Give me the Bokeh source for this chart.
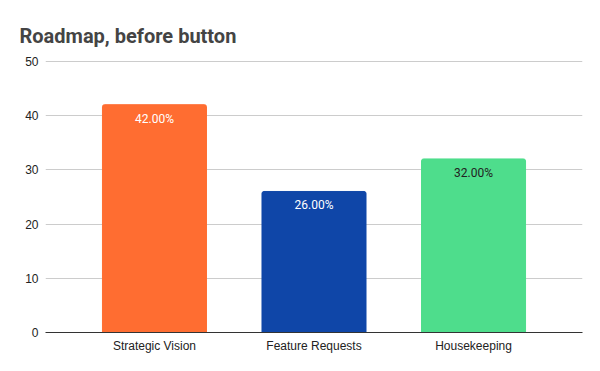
from bokeh.plotting import figure
from bokeh.models import FactorRange, Range1d, FixedTicker, ColumnDataSource
from bokeh.core.properties import value
from bokeh.embed import file_html
from bokeh.resources import INLINE

categories = ["Strategic Vision", "Feature Requests", "Housekeeping"]
values = [42, 26, 32]
labels = ["42.00%", "26.00%", "32.00%"]
colors = ["#FF6D31", "#0F46A8", "#4EDD8C"]
label_colors = ["#FFFFFF", "#FFFFFF", "#222222"]
y_ticks = [0, 10, 20, 30, 40, 50]

src = ColumnDataSource(dict(cat=categories, val=values, lab=labels,
                            col=colors, lcol=label_colors))

p = figure(width=592, height=363, output_backend="svg", toolbar_location=None,
           x_range=FactorRange(factors=categories, range_padding=0.122,
                               range_padding_units="percent"),
           y_range=Range1d(0, 50.15),
           min_border_left=45, min_border_right=10, min_border_top=60,
           min_border_bottom=31)

p.vbar(x="cat", top="val", width=0.652, color="col", source=src,
       border_radius=[2, 2, 0, 0])
p.text(x="cat", y="val", text="lab", source=src, text_color="lcol",
       text_align="center", text_baseline="top", y_offset=7,
       text_font=value("Roboto"), text_font_size="12px")

p.title.text = "Roadmap, before button"
p.title.text_font = "Roboto"
p.title.text_font_size = "20px"
p.title.text_font_style = "bold"
p.title.text_color = "#444444"
p.title.align = "left"
p.title.offset = -26
p.title.standoff = 25

p.outline_line_color = None
p.xgrid.grid_line_color = None
p.ygrid.grid_line_color = "#CCCCCC"
p.yaxis.ticker = FixedTicker(ticks=y_ticks)
p.yaxis.axis_line_color = None
p.yaxis.major_tick_line_color = None
p.yaxis.minor_tick_line_color = None
p.yaxis.major_label_standoff = 1
p.xaxis.axis_line_color = "#333333"
p.xaxis.major_tick_line_color = None
p.xaxis.minor_tick_line_color = None
p.xaxis.major_label_standoff = 0
for ax in (p.xaxis, p.yaxis):
    ax.major_label_text_font = "Liberation Sans"
    ax.major_label_text_font_size = "12px"
    ax.major_label_text_color = "#222222"

open("out.html", "w").write(file_html(p, INLINE))
